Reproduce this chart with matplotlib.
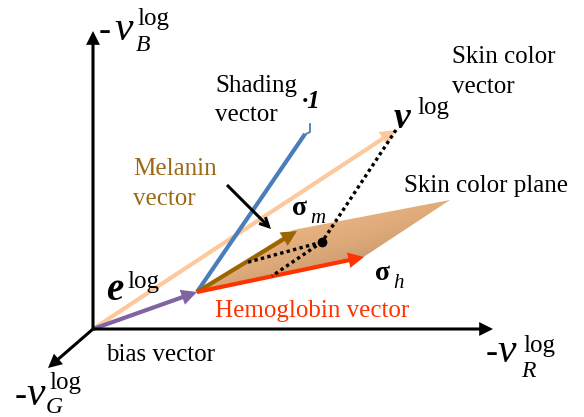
import matplotlib.pyplot as plt
import numpy as np
from matplotlib.patches import FancyArrowPatch, Polygon
from matplotlib.colors import LinearSegmentedColormap

SERIF = 'Liberation Serif'

# points of the diagram, in pixels of the picture (y goes down)
origin = (93, 329)
axis_tips = [(93, 31), (493, 329), (48, 368)]
bias_end = (197, 292)
skin_end = (396, 130)
shade_end = (305, 134)
mel_end = (297, 231)
hem_end = (364, 257)
plane_pts = [(195, 293), (293, 230), (450, 200), (362, 258)]
sum_dot = (322, 242)
mel_foot = (245, 263)
hem_foot = (272, 276)
pointer = [(227, 185), (271, 229)]

W, H = 584, 417
fig = plt.figure(figsize=(W / 100, H / 100), dpi=100)
ax = fig.add_axes([0, 0, 1, 1])
ax.set_xlim(0, W)
ax.set_ylim(H, 0)
ax.axis('off')


def arrow(p0, p1, color, lw, head=14, style='-|>', z=3):
    a = FancyArrowPatch(p0, p1, arrowstyle=style, mutation_scale=head,
                        color=color, lw=lw, shrinkA=0, shrinkB=0, zorder=z,
                        joinstyle='miter', capstyle='butt')
    ax.add_patch(a)


# skin color plane with gradient
poly = Polygon(plane_pts, closed=True, facecolor='none', edgecolor='none')
ax.add_patch(poly)
xs = np.linspace(190, 455, 200)
ys = np.linspace(196, 298, 100)
gx, gy = np.meshgrid(xs, ys)
t = ((gx - 195) * 0.3 + (293 - gy)) / (255 * 0.3 + 93)
cmap = LinearSegmentedColormap.from_list('skin', ['#f8c48e', '#deaa7a', '#a27b58'])
im = ax.imshow(t, extent=(190, 455, 298, 196), cmap=cmap, vmin=0, vmax=1,
               origin='lower', zorder=1, aspect='auto')
im.set_clip_path(poly)
ax.set_xlim(0, W)
ax.set_ylim(H, 0)

# axes of the log color space
for tip in axis_tips:
    arrow(origin, tip, 'black', 2.2, head=16, z=5)

# skin color vector and bias vector
arrow(origin, skin_end, '#fcc89c', 3.0, head=16, z=2)
arrow(origin, bias_end, '#8064a2', 3.0, head=16, z=4)

# shading vector with small hook at its end
ax.plot([bias_end[0], shade_end[0]], [bias_end[1], shade_end[1]],
        color='#4a7ebb', lw=3.0, solid_capstyle='butt', zorder=3)
ax.plot([shade_end[0] - 1, shade_end[0] + 5, shade_end[0] + 5],
        [shade_end[1] + 1, shade_end[1] - 2, shade_end[1] - 10],
        color='#4a7ebb', lw=1.3, zorder=3)

# melanin and hemoglobin vectors
arrow(bias_end, mel_end, '#9c6500', 3.0, head=16, z=4)
arrow(bias_end, hem_end, '#ff3300', 3.0, head=16, z=4)

# dotted decomposition lines
dots = dict(color='black', lw=2.4, linestyle=(0, (1, 1)), dash_capstyle='butt', zorder=5)
ax.plot([skin_end[0], sum_dot[0]], [skin_end[1], sum_dot[1]], **dots)
ax.plot([sum_dot[0], mel_foot[0]], [sum_dot[1], mel_foot[1]], **dots)
ax.plot([sum_dot[0], hem_foot[0]], [sum_dot[1], hem_foot[1]], **dots)
ax.plot(*sum_dot, 'o', color='black', ms=6, zorder=6)

# pointer from melanin label
arrow(pointer[0], pointer[1], 'black', 2.2, head=16, style='->', z=5)


def put(x, y, s, size, **kw):
    ax.text(x, y, s, fontsize=size, va='baseline', ha='left', family=SERIF, **kw)


# axis labels
put(99, 40, '-', 26)
put(114, 40, 'v', 30, style='italic')
put(137, 25, 'log', 18)
put(136, 51, 'B', 17, style='italic')

put(486, 362, '-', 26)
put(497, 362, 'v', 30, style='italic')
put(523, 352, 'log', 18)
put(521, 377, 'R', 17, style='italic')

put(15, 405, '-', 26)
put(26, 405, 'v', 30, style='italic')
put(49, 389, 'log', 18)
put(46, 413, 'G', 17, style='italic')

# vector labels
put(215, 92, 'Shading', 18)
put(215, 121, 'vector', 18)
put(302, 108, '·1', 18, weight='bold', style='italic')

put(133, 175, 'Melanin', 18, color='#9c6a17')
put(133, 205, 'vector', 18, color='#9c6a17')

put(452, 63, 'Skin color', 18)
put(452, 93, 'vector', 18)
put(394, 128, 'v', 27, weight='bold', style='italic')
put(417, 114, 'log', 18)

put(404, 192, 'Skin color plane', 18)

put(292, 215, 'σ', 20, weight='bold')
put(310, 223, 'm', 15, style='italic')
put(375, 280, 'σ', 20, weight='bold')
put(393, 288, 'h', 15, style='italic')

put(215, 317, 'Hemoglobin vector', 18, color='#ff3300')

put(106, 300, 'e', 28, weight='bold', style='italic')
put(127, 288, 'log', 18)

put(106, 361, 'bias vector', 18)

fig.savefig('out.png', dpi=100)
